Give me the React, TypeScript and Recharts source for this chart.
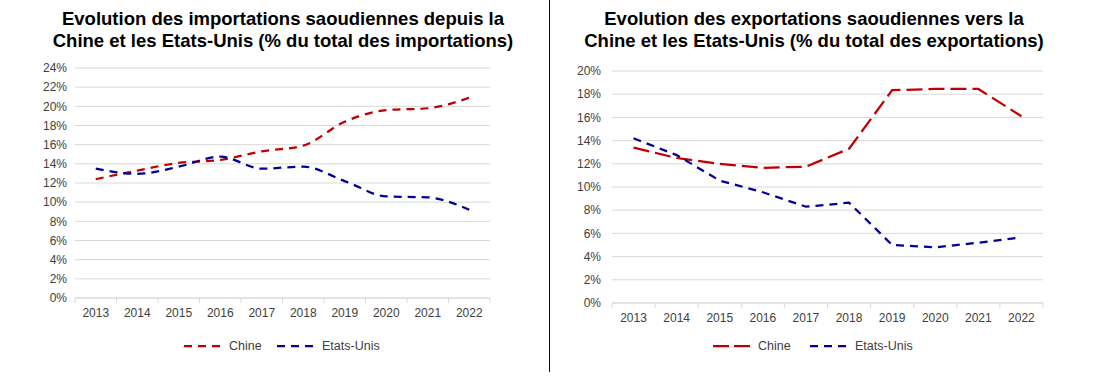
import React from 'react';
import { LineChart, Line, XAxis, YAxis, CartesianGrid } from 'recharts';

const years = ['2013', '2014', '2015', '2016', '2017', '2018', '2019', '2020', '2021', '2022'];
const importChine = [12.4, 13.3, 14.1, 14.4, 15.3, 15.9, 18.4, 19.6, 19.8, 20.9];
const importUS = [13.5, 12.95, 13.7, 14.75, 13.5, 13.7, 12.2, 10.6, 10.5, 9.2];
const exportChine = [13.4, 12.5, 12.0, 11.65, 11.75, 13.3, 18.35, 18.45, 18.45, 16.1];
const exportUS = [14.2, 12.75, 10.55, 9.55, 8.3, 8.65, 5.0, 4.8, 5.2, 5.65];
const importTicks = [0, 2, 4, 6, 8, 10, 12, 14, 16, 18, 20, 22, 24];
const exportTicks = [0, 2, 4, 6, 8, 10, 12, 14, 16, 18, 20];

const RED = '#c00000';
const BLUE = '#000099';
const GRID = '#d9d9d9';
const TEXT = '#404040';
const FONT = '"Liberation Sans", Arial, sans-serif';

const importData = years.map((y, i) => ({ year: y, chine: importChine[i], us: importUS[i] }));
const exportData = years.map((y, i) => ({ year: y, chine: exportChine[i], us: exportUS[i] }));

// Excel style: tick marks sit between categories, not under them
function makeTick(band: number, count: number, labelOffset: number) {
  return function YearTick(props: any) {
    const { x, y, payload, index } = props;
    return (
      <g>
        <line x1={x - band / 2} x2={x - band / 2} y1={y} y2={y + 5} stroke={GRID} />
        {index === count - 1 && <line x1={x + band / 2} x2={x + band / 2} y1={y} y2={y + 5} stroke={GRID} />}
        <text x={x} y={y + labelOffset} textAnchor="middle" fontSize={12} fill={TEXT} fontFamily={FONT}>
          {payload.value}
        </text>
      </g>
    );
  };
}

function LegendItem({ left, color, dash, label }: { left: number; color: string; dash: string; label: string }) {
  return (
    <div style={{ position: 'absolute', left, top: 337, height: 18, display: 'flex', alignItems: 'center' }}>
      <svg width={37} height={18}>
        <line x1={0} x2={37} y1={9} y2={9} stroke={color} strokeWidth={2.25} strokeDasharray={dash} />
      </svg>
      <span style={{ marginLeft: 8, fontSize: 12.5, color: TEXT, fontFamily: FONT }}>{label}</span>
    </div>
  );
}

const titleStyle: React.CSSProperties = {
  position: 'absolute',
  top: 8,
  textAlign: 'center',
  fontSize: 18.5,
  lineHeight: '22px',
  fontWeight: 'bold',
  color: '#000',
  fontFamily: FONT,
  whiteSpace: 'nowrap',
};

const leftBand = 41.5;
const rightBand = 43.1;

export default function App() {
  return (
    <div style={{ position: 'absolute', left: 0, top: 0, width: 1099, height: 382, background: '#fff', fontFamily: FONT }}>
      <div style={{ ...titleStyle, left: 0, width: 566 }}>
        Evolution des importations saoudiennes depuis la
        <br />
        Chine et les Etats-Unis (% du total des importations)
      </div>
      <div style={{ ...titleStyle, left: 564, width: 500 }}>
        Evolution des exportations saoudiennes vers la
        <br />
        Chine et les Etats-Unis (% du total des exportations)
      </div>

      <div style={{ position: 'absolute', left: 0, top: 0 }}>
        <LineChart width={530} height={382} data={importData} margin={{ top: 68, right: 40, left: 15, bottom: 54 }}>
          <CartesianGrid vertical={false} stroke={GRID} />
          <XAxis
            dataKey="year"
            height={30}
            padding={{ left: leftBand / 2, right: leftBand / 2 }}
            axisLine={{ stroke: GRID }}
            tickLine={false}
            tickSize={0}
            tickMargin={0}
            interval={0}
            tick={makeTick(leftBand, years.length, 19)}
          />
          <YAxis
            width={60}
            domain={[0, 24]}
            ticks={importTicks}
            interval={0}
            axisLine={false}
            tickLine={false}
            tickFormatter={(v) => `${v}%`}
            tick={{ fontSize: 12, fill: TEXT, fontFamily: FONT }}
          />
          <Line type="monotone" dataKey="chine" stroke={RED} strokeWidth={2.25} strokeDasharray="8 6" dot={false} isAnimationActive={false} />
          <Line type="monotone" dataKey="us" stroke={BLUE} strokeWidth={2.25} strokeDasharray="8 6" dot={false} isAnimationActive={false} />
        </LineChart>
      </div>

      <div style={{ position: 'absolute', left: 549, top: 0, width: 1, height: 372, background: '#000066' }} />

      <div style={{ position: 'absolute', left: 549, top: 0 }}>
        <LineChart width={550} height={382} data={exportData} margin={{ top: 71, right: 56, left: 13, bottom: 49 }}>
          <CartesianGrid vertical={false} stroke={GRID} />
          <XAxis
            dataKey="year"
            height={30}
            padding={{ left: rightBand / 2, right: rightBand / 2 }}
            axisLine={{ stroke: GRID }}
            tickLine={false}
            tickSize={0}
            tickMargin={0}
            interval={0}
            tick={makeTick(rightBand, years.length, 19)}
          />
          <YAxis
            width={50}
            domain={[0, 20]}
            ticks={exportTicks}
            interval={0}
            axisLine={false}
            tickLine={false}
            tickMargin={5}
            tickFormatter={(v) => `${v}%`}
            tick={{ fontSize: 12, fill: TEXT, fontFamily: FONT }}
          />
          <Line type="linear" dataKey="chine" stroke={RED} strokeWidth={2.25} strokeDasharray="16 6" dot={false} isAnimationActive={false} />
          <Line type="linear" dataKey="us" stroke={BLUE} strokeWidth={2.25} strokeDasharray="8 6" dot={false} isAnimationActive={false} />
        </LineChart>
      </div>

      <LegendItem left={184} color={RED} dash="8 6" label="Chine" />
      <LegendItem left={277} color={BLUE} dash="8 6" label="Etats-Unis" />
      <LegendItem left={713} color={RED} dash="16 5" label="Chine" />
      <LegendItem left={810} color={BLUE} dash="8 6" label="Etats-Unis" />
    </div>
  );
}
